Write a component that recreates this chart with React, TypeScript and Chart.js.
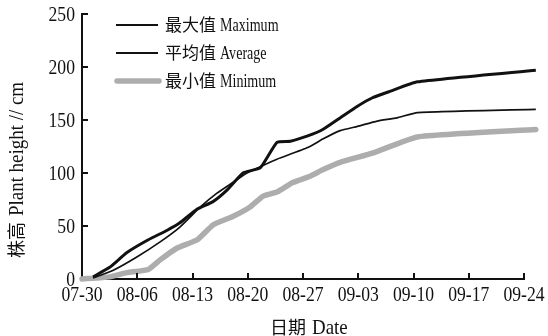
import React, { useEffect, useRef } from "react";
import { Chart, registerables } from "chart.js";

Chart.register(...registerables);

// Days counted from 07-30
const tickDays = [0, 7, 14, 21, 28, 35, 42, 49, 56];
const tickLabels = ["07-30", "08-06", "08-13", "08-20", "08-27", "09-03", "09-10", "09-17", "09-24"];
const yTicks = [0, 50, 100, 150, 200, 250];

const maxDays = [1.4, 3.5, 5.7, 8.4, 10.8, 12.4, 14.6, 16.6, 18.4, 20.4, 22.6, 24.7, 26.4, 28.6, 30.5, 32.7, 34.9, 36.8, 39.0, 42.5, 57.5];
const maxValues = [2, 11, 25, 37, 46, 53, 66, 73, 84, 100, 105, 129, 130, 135, 141, 152, 163, 171, 177, 186, 197];

const avgDays = [1.4, 3.9, 7.0, 9.9, 12.4, 15.0, 17.1, 19.1, 20.9, 22.6, 24.7, 28.6, 30.5, 32.7, 34.9, 37.4, 39.9, 42.5, 57.5];
const avgValues = [1, 8, 21, 35, 49, 68, 81, 91, 100, 106, 113, 124, 132, 140, 144, 149, 152, 157, 160];

const minDays = [0, 3.5, 5.7, 8.4, 9.9, 12.0, 14.6, 16.6, 19.1, 21.3, 22.9, 24.7, 26.7, 28.9, 30.5, 32.7, 36.9, 42.5, 57.5];
const minValues = [0, 2, 6, 9, 18, 29, 37, 51, 59, 68, 78, 82, 91, 97, 103, 110, 119, 134, 141];

const seriesLabels = ["最大值 Maximum", "平均值 Average", "最小值 Minimum"];
const yTitle = ["株高", "Plant height // cm"];
const xTitle = ["日期", "Date"];

const LATIN = '"Liberation Serif", "Times New Roman", serif';
const CJK = '"Noto Sans CJK SC", sans-serif';

const toPoints = (xs: number[], ys: number[]) => xs.map((x, i) => ({ x, y: ys[i] }));

function drawText(
  ctx: CanvasRenderingContext2D,
  text: string,
  x: number,
  y: number,
  font: string,
  sx: number,
  align: CanvasTextAlign
) {
  ctx.save();
  ctx.translate(x, y);
  ctx.scale(sx, 1);
  ctx.font = font;
  ctx.textAlign = align;
  ctx.textBaseline = "alphabetic";
  ctx.fillText(text, 0, 0);
  ctx.restore();
}

function textWidth(ctx: CanvasRenderingContext2D, text: string, font: string, sx: number) {
  ctx.save();
  ctx.font = font;
  const w = ctx.measureText(text).width * sx;
  ctx.restore();
  return w;
}

const decorations = {
  id: "decorations",
  afterDraw(chart: any) {
    const ctx: CanvasRenderingContext2D = chart.ctx;
    const xs = chart.scales.x;
    const ys = chart.scales.y;
    const area = chart.chartArea;
    ctx.save();
    ctx.fillStyle = "#111";
    ctx.strokeStyle = "#111";
    ctx.lineWidth = 2;

    // inward tick marks
    ctx.beginPath();
    xs.ticks.forEach((t: any) => {
      if (t.value === 0) return;
      const px = Math.round(xs.getPixelForValue(t.value));
      ctx.moveTo(px, area.bottom);
      ctx.lineTo(px, area.bottom - 6);
    });
    ys.ticks.forEach((t: any) => {
      if (t.value === 0) return;
      const py = Math.round(ys.getPixelForValue(t.value));
      ctx.moveTo(area.left, py);
      ctx.lineTo(area.left + 6, py);
    });
    ctx.stroke();

    // tick labels
    const tickFont = `21px ${LATIN}`;
    xs.ticks.forEach((t: any, i: number) => {
      const px = xs.getPixelForValue(t.value);
      drawText(ctx, tickLabels[i] ?? String(t.value), px, area.bottom + 22, tickFont, 0.84, "center");
    });
    ys.ticks.forEach((t: any) => {
      const py = ys.getPixelForValue(t.value);
      drawText(ctx, String(t.value), area.left - 7, py + 7, tickFont, 0.84, "right");
    });

    // x title
    const cjkTitleFont = `18px ${CJK}`;
    const titleFont = `22px ${LATIN}`;
    drawText(ctx, xTitle[0], 270, 334, cjkTitleFont, 1, "left");
    const xw = textWidth(ctx, xTitle[0], cjkTitleFont, 1);
    drawText(ctx, xTitle[1], 270 + xw + 6, 334, titleFont, 0.86, "left");

    // y title (rotated)
    ctx.save();
    ctx.translate(23, 258);
    ctx.rotate(-Math.PI / 2);
    drawText(ctx, yTitle[0], 0, 0, cjkTitleFont, 1, "left");
    const yw = textWidth(ctx, yTitle[0], cjkTitleFont, 1);
    drawText(ctx, yTitle[1], yw + 6, 0, titleFont, 0.86, "left");
    ctx.restore();

    // legend
    const rows = [25, 53, 81];
    chart.data.datasets.forEach((ds: any, i: number) => {
      const y = rows[i];
      ctx.save();
      ctx.strokeStyle = ds.borderColor;
      ctx.lineWidth = i === 2 ? 5.5 : 2.2;
      ctx.lineCap = i === 2 ? "round" : "butt";
      ctx.beginPath();
      ctx.moveTo(i === 2 ? 117 : 116, y);
      ctx.lineTo(i === 2 ? 159 : 158, y);
      ctx.stroke();
      ctx.restore();
      const parts = ds.label.split(" ");
      const cjk = parts[0];
      const latin = parts.slice(1).join(" ");
      const cf = `17px ${CJK}`;
      drawText(ctx, cjk, 165, y + 6, cf, 1, "left");
      const cw = textWidth(ctx, cjk, cf, 1);
      drawText(ctx, latin, 165 + cw + 4, y + 6, `19px ${LATIN}`, 0.74, "left");
    });
    ctx.restore();
  },
};

export default function App() {
  const canvasRef = useRef<HTMLCanvasElement | null>(null);

  useEffect(() => {
    document.body.style.margin = "0";
    const canvas = canvasRef.current;
    if (!canvas) return;
    const common = {
      pointRadius: 0,
      fill: false,
      tension: 0.15,
      clip: false as any,
      borderJoinStyle: "round" as const,
    };
    const chart = new Chart(canvas, {
      type: "line",
      data: {
        datasets: [
          { ...common, label: seriesLabels[0], data: toPoints(maxDays, maxValues), borderColor: "#111111", borderWidth: 3 },
          { ...common, label: seriesLabels[1], data: toPoints(avgDays, avgValues), borderColor: "#111111", borderWidth: 1.7 },
          {
            ...common,
            label: seriesLabels[2],
            data: toPoints(minDays, minValues),
            borderColor: "#adadad",
            borderWidth: 5.5,
            borderCapStyle: "round",
          },
        ],
      },
      options: {
        animation: false,
        responsive: false,
        devicePixelRatio: 1,
        layout: { padding: { left: 82, right: 24, top: 14, bottom: 57 } },
        plugins: { legend: { display: false }, tooltip: { enabled: false } },
        scales: {
          x: {
            type: "linear",
            min: 0,
            max: 56,
            afterBuildTicks: (scale: any) => {
              scale.ticks = tickDays.map((v) => ({ value: v }));
            },
            ticks: { display: false },
            grid: { display: false, drawTicks: false },
            border: { display: true, color: "#111", width: 2 },
          },
          y: {
            type: "linear",
            min: 0,
            max: 250,
            afterBuildTicks: (scale: any) => {
              scale.ticks = yTicks.map((v) => ({ value: v }));
            },
            ticks: { display: false },
            grid: { display: false, drawTicks: false },
            border: { display: true, color: "#111", width: 2 },
          },
        },
      },
      plugins: [decorations],
    });
    return () => chart.destroy();
  }, []);

  return (
    <div style={{ width: 548, height: 336, background: "#fff" }}>
      <canvas ref={canvasRef} width={548} height={336} />
    </div>
  );
}
